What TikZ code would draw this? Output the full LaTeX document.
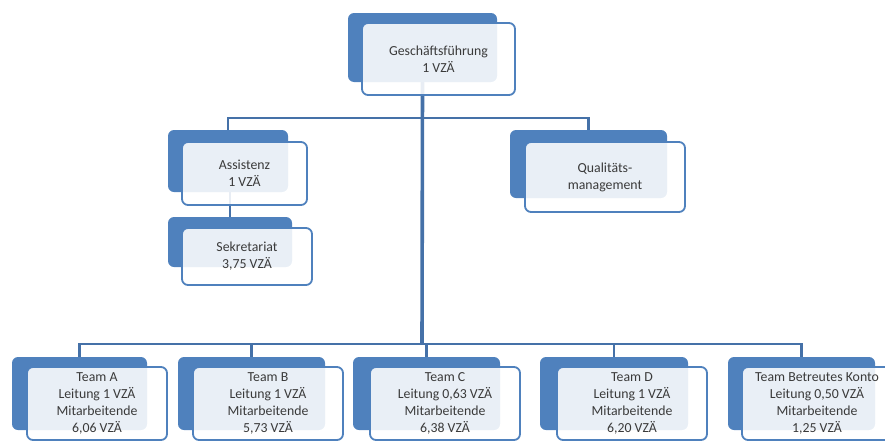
\documentclass[tikz,border=0pt]{standalone}
\usepackage{fontspec}
\setmainfont{Carlito}
\definecolor{backblue}{HTML}{4F81BD}
\definecolor{connblue}{HTML}{4571A8}
\definecolor{txtgray}{HTML}{3A3A3A}
\tikzset{
  backbox/.style={fill=backblue, rounded corners=6pt, inner sep=0pt, draw=none},
  frontbox/.style={draw=backblue, line width=1.8pt, fill=white, fill opacity=0.88, text opacity=1,
    rounded corners=6pt, inner sep=0pt, align=center, text=txtgray,
    font=\fontsize{13.8}{17}\selectfont},
  conn/.style={draw=connblue, line width=2.6pt},
  trunk/.style={draw=connblue, line width=3.6pt},
}
\begin{document}
\begin{tikzpicture}[x=1pt,y=-1pt]
\useasboundingbox (0,0) rectangle (885,442);
% back boxes
\node[backbox, minimum width=149pt, minimum height=69pt] (gfB) at (422.5,47.5) {};
\node[backbox, minimum width=120pt, minimum height=62pt] (asB) at (228,161) {};
\node[backbox, minimum width=124pt, minimum height=50pt] (skB) at (230,242) {};
\node[backbox, minimum width=157pt, minimum height=68pt] (qmB) at (588.5,164) {};
\node[backbox, minimum width=135pt, minimum height=73pt] (taB) at (79.5,393.5) {};
\node[backbox, minimum width=147pt, minimum height=73pt] (tbB) at (251.5,393.5) {};
\node[backbox, minimum width=147pt, minimum height=73pt] (tcB) at (426.5,393.5) {};
\node[backbox, minimum width=148pt, minimum height=73pt] (tdB) at (614,393.5) {};
\node[backbox, minimum width=147pt, minimum height=73pt] (tkB) at (801.5,393.5) {};
% coordinates of the buses
\coordinate (bus1) at (422,118);
\coordinate (bus2) at (422,344);
% connectors (drawn before front boxes)
\draw[conn] (asB.north) -- (asB.north |- bus1) -| (qmB.north);
\draw[conn] (taB.north) -- (taB.north |- bus2) -| (tkB.north);
\draw[conn] (tbB.north) -- (tbB.north |- bus2);
\draw[conn] (tcB.north) -- (tcB.north |- bus2);
\draw[conn] (tdB.north) -- (tdB.north |- bus2);
\draw[trunk] (gfB.south) -- (bus2);
\draw[conn] (skB.north |- asB.south) -- (skB.north);
% front boxes
\node[frontbox, minimum width=153pt, minimum height=72pt] (gf) at (438.5,59) {Geschäftsführung\\1 VZÄ};
\node[frontbox, minimum width=125pt, minimum height=63pt] (as) at (244.5,173.5) {Assistenz\\1 VZÄ};
\node[frontbox, minimum width=130pt, minimum height=57pt] (sk) at (247,256.5) {Sekretariat\\3,75 VZÄ};
\node[frontbox, minimum width=160pt, minimum height=70pt] (qm) at (605,177) {Qualitäts-\\management};
\node[frontbox, minimum width=140pt, minimum height=73pt] (ta) at (97,403.5) {Team A\\Leitung 1 VZÄ\\Mitarbeitende\\6,06 VZÄ};
\node[frontbox, minimum width=150pt, minimum height=73pt] (tb) at (268,403.5) {Team B\\Leitung 1 VZÄ\\Mitarbeitende\\5,73 VZÄ};
\node[frontbox, minimum width=150pt, minimum height=73pt] (tc) at (445,403.5) {Team C\\Leitung 0,63 VZÄ\\Mitarbeitende\\6,38 VZÄ};
\node[frontbox, minimum width=150pt, minimum height=73pt] (td) at (632,403.5) {Team D\\Leitung 1 VZÄ\\Mitarbeitende\\6,20 VZÄ};
\node[frontbox, minimum width=150pt, minimum height=73pt] (tk) at (817,403.5) {Team Betreutes Konto\\Leitung 0,50 VZÄ\\Mitarbeitende\\1,25 VZÄ};
\end{tikzpicture}
\end{document}
